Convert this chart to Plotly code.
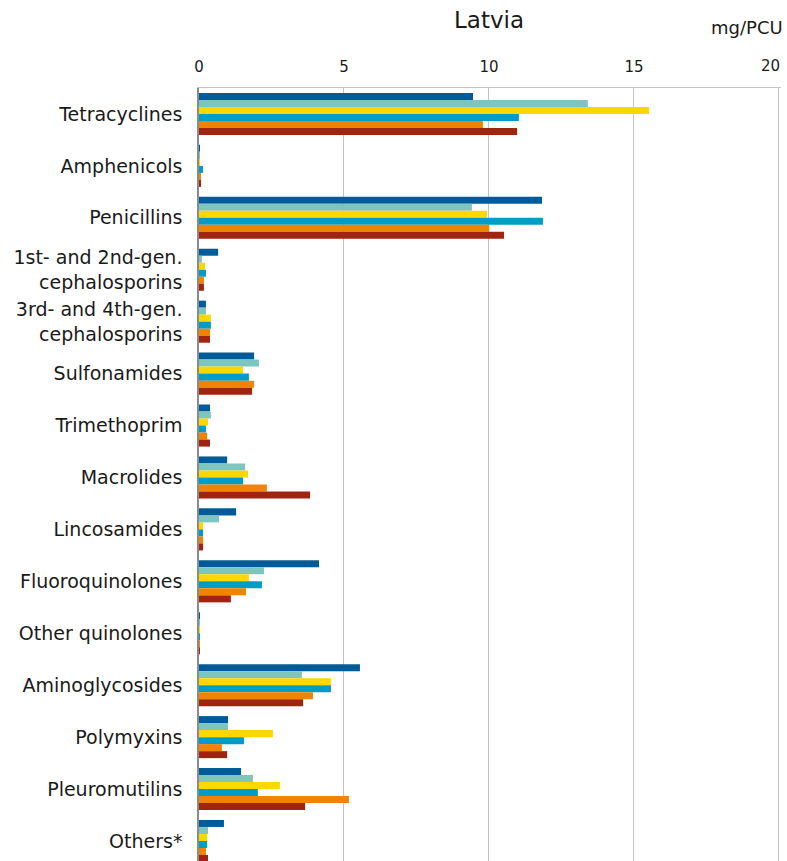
import plotly.graph_objects as go

categories = [
    "Tetracyclines", "Amphenicols", "Penicillins",
    "1st- and 2nd-gen.<br>cephalosporins", "3rd- and 4th-gen.<br>cephalosporins",
    "Sulfonamides", "Trimethoprim", "Macrolides", "Lincosamides",
    "Fluoroquinolones", "Other quinolones", "Aminoglycosides",
    "Polymyxins", "Pleuromutilins", "Others*",
]

series_names = ["2011", "2012", "2013", "2014", "2015", "2016"]

s2011 = [9.45, 0.03, 11.83, 0.66, 0.24, 1.90, 0.38, 0.97, 1.28, 4.14, 0.03, 5.55, 1.00, 1.45, 0.86]
s2012 = [13.41, 0.02, 9.41, 0.10, 0.24, 2.07, 0.41, 1.59, 0.69, 2.24, 0.02, 3.55, 1.00, 1.86, 0.31]
s2013 = [15.52, 0.01, 9.93, 0.21, 0.41, 1.52, 0.31, 1.69, 0.14, 1.72, 0.02, 4.55, 2.55, 2.79, 0.28]
s2014 = [11.03, 0.14, 11.86, 0.24, 0.41, 1.72, 0.24, 1.52, 0.14, 2.17, 0.03, 4.55, 1.55, 2.03, 0.28]
s2015 = [9.79, 0.07, 10.01, 0.17, 0.38, 1.90, 0.28, 2.34, 0.14, 1.62, 0.02, 3.93, 0.79, 5.17, 0.24]
s2016 = [10.97, 0.07, 10.52, 0.17, 0.38, 1.83, 0.38, 3.83, 0.14, 1.10, 0.03, 3.59, 0.97, 3.66, 0.31]

colors = ["#005B9A", "#7CC6BF", "#FFD700", "#009CC8", "#F08300", "#A12410"]

x_ticks = [0, 5, 10, 15, 20]
x_max = 20.07

FONT = "Verdana, DejaVu Sans, sans-serif"

fig = go.Figure()
for name, vals, col in zip(series_names, [s2011, s2012, s2013, s2014, s2015, s2016], colors):
    fig.add_trace(go.Bar(
        y=categories, x=vals, name=name, orientation="h",
        marker=dict(color=col, line=dict(width=0)),
    ))

W, H = 787, 861
top, left, right = 88, 199, 6
band = 51.93
plot_h = H - top
plot_w = W - left - right
y_end = -0.5 + plot_h / band

# last tick label is kept inside the frame (right-aligned), as in the original
tick_text = [str(v) for v in x_ticks[:-1]] + [""]

fig.update_layout(
    width=W, height=H,
    margin=dict(l=left, r=right, t=top, b=0, pad=0, autoexpand=False),
    barmode="group", bargap=0.19, bargroupgap=0,
    plot_bgcolor="white", paper_bgcolor="white",
    showlegend=False,
    font=dict(family=FONT, color="#1a1a1a"),
    title=dict(text="Latvia", x=(199 + 779) / 2 / W, xanchor="center",
               y=1 - 20 / H, yanchor="middle", yref="container",
               font=dict(size=23, family=FONT, color="#1a1a1a")),
    xaxis=dict(
        side="top", range=[0, x_max], tickvals=x_ticks, ticktext=tick_text,
        showgrid=True, gridcolor="#c4c4c4", gridwidth=1.2,
        showline=True, linecolor="#c4c4c4", linewidth=1.2,
        zeroline=False, ticks="", ticklabelstandoff=9,
        tickfont=dict(size=15, family=FONT, color="#1a1a1a"),
        fixedrange=True, automargin=False,
    ),
    yaxis=dict(
        categoryorder="array", categoryarray=categories,
        range=[y_end, -0.5],
        showgrid=False, showline=True, linecolor="#8a8a8a", linewidth=1.5,
        ticks="", ticklabelstandoff=11,
        tickfont=dict(size=19, family=FONT, color="#1a1a1a"),
        zeroline=False, automargin=False,
    ),
)

fig.add_annotation(
    text=str(x_ticks[-1]), xref="x", yref="paper",
    x=x_ticks[-1], y=1 + (top - 66) / plot_h,
    xanchor="right", yanchor="middle", xshift=3, showarrow=False,
    font=dict(size=15, family=FONT, color="#1a1a1a"),
)

fig.add_annotation(
    text="mg/PCU", xref="paper", yref="paper",
    x=(785 - left) / plot_w, y=1 + (top - 27) / plot_h,
    xanchor="right", yanchor="middle", showarrow=False,
    font=dict(size=18, family=FONT, color="#1a1a1a"),
)

post = (
    "document.documentElement.style.margin='0';"
    "document.documentElement.style.overflow='hidden';"
    "document.body.style.margin='0';"
    "document.body.style.overflow='hidden';"
)

fig.write_html("out.html", post_script=post, config={"displayModeBar": False})
